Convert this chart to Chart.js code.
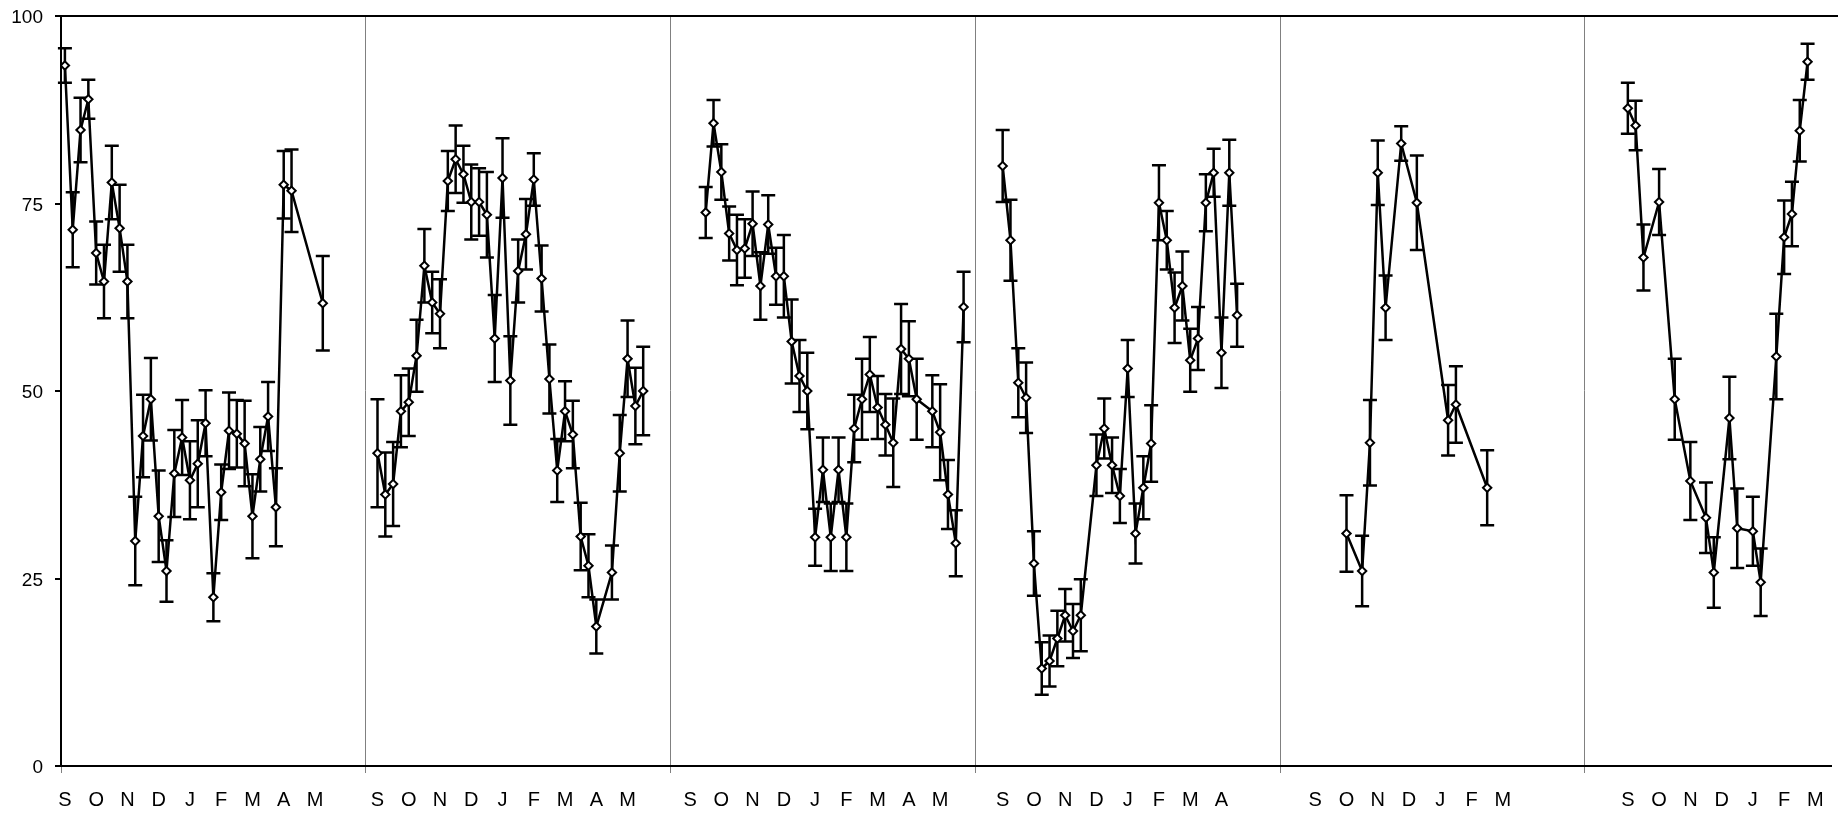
<!DOCTYPE html>
<html>
<head>
<meta charset="utf-8">
<script src="https://cdn.jsdelivr.net/npm/chart.js@4.4.0/dist/chart.umd.min.js"></script>
<style>
  html, body { margin: 0; padding: 0; background: #fff; }
</style>
</head>
<body>
<canvas id="grafica" width="1838" height="814"></canvas>
<script>
// Semana (índice global), media y error de cada temporada
const weeks1 = [0,1,2,3,4,5,6,7,8,9,10,11,12,13,14,15,16,17,18,19,20,21,22,23,24,25,26,27,28,29,33];
const mean1 = [93.4,71.5,84.8,88.9,68.4,64.6,77.8,71.7,64.6,30.0,44.0,48.9,33.3,26.0,39.0,43.8,38.1,40.3,45.7,22.5,36.5,44.7,44.3,43.0,33.3,40.9,46.6,34.5,77.5,76.7,61.7];
const err1 = [2.3,5.0,4.3,2.6,4.2,4.9,4.9,5.8,4.9,5.9,5.5,5.5,6.1,4.1,5.8,5.0,5.2,5.8,4.4,3.2,3.7,5.1,4.5,5.7,5.6,4.3,4.6,5.2,4.5,5.5,6.3];

const weeks2 = [40,41,42,43,44,45,46,47,48,49,50,51,52,53,54,55,56,57,58,59,60,61,62,63,64,65,66,67,68,70,71,72,73,74];
const mean2 = [41.7,36.2,37.6,47.3,48.5,54.7,66.7,61.8,60.3,78.0,80.9,78.9,75.2,75.2,73.5,57.0,78.4,51.4,66.0,70.9,78.2,65.0,51.6,39.4,47.3,44.2,30.6,26.7,18.6,25.8,41.7,54.3,48.0,50.0];
const err2 = [7.2,5.6,5.6,4.8,4.5,4.8,4.9,4.1,4.6,4.0,4.5,3.8,5.0,4.5,5.7,5.8,5.3,5.9,4.2,4.7,3.5,4.4,4.6,4.2,4.0,4.5,4.5,4.2,3.6,3.6,5.1,5.1,5.1,5.9];

const weeks3 = [82,83,84,85,86,87,88,89,90,91,92,93,94,95,96,97,98,99,100,101,102,103,104,105,106,107,108,109,111,112,113,114,115];
const mean3 = [73.8,85.7,79.2,71.0,68.8,69.0,72.3,64.0,72.2,65.3,65.3,56.6,52.0,50.0,30.5,39.5,30.5,39.5,30.5,45.0,48.9,52.2,47.8,45.5,43.1,55.6,54.3,48.9,47.3,44.5,36.2,29.7,61.2];
const err3 = [3.4,3.1,3.7,3.6,4.7,3.9,4.3,4.5,3.9,3.8,5.5,5.6,4.8,5.1,3.8,4.3,4.5,4.3,4.5,4.5,5.4,5.0,4.2,4.1,5.9,6.0,5.0,5.4,4.8,6.4,4.6,4.4,4.7];

const weeks4 = [120,121,122,123,124,125,126,127,128,129,130,132,133,134,135,136,137,138,139,140,141,142,143,144,145,146,147,148,149,150];
const mean4 = [80.0,70.1,51.1,49.1,27.0,13.0,14.0,17.0,20.1,18.0,20.1,40.1,45.0,40.1,36.0,53.0,31.0,37.1,43.0,75.1,70.1,61.1,64.0,54.1,57.0,75.1,79.1,55.1,79.1,60.1];
const err4 = [4.8,5.4,4.6,4.7,4.3,3.5,3.4,3.7,3.5,3.6,4.8,4.1,4.0,3.7,3.6,3.8,4.0,4.2,5.1,5.0,3.9,4.7,4.6,4.2,4.2,3.8,3.2,4.7,4.4,4.2];

const weeks5 = [164,166,167,168,169,171,173,177,178,182];
const mean5 = [31.0,26.0,43.1,79.1,61.1,83.0,75.1,46.1,48.2,37.1];
const err5 = [5.1,4.7,5.7,4.3,4.3,2.3,6.3,4.7,5.1,5.0];

const weeks6 = [200,201,202,204,206,208,210,211,213,214,216,217,219,220,221,222,223];
const mean6 = [87.7,85.4,67.8,75.2,48.9,38.0,33.1,25.8,46.4,31.7,31.3,24.5,54.6,70.5,73.6,84.7,93.9];
const err6 = [3.4,3.3,4.4,4.4,5.4,5.2,4.7,4.7,5.5,5.3,4.6,4.5,5.7,4.9,4.3,4.1,2.4];

// Etiquetas del eje
const monthLetters = ["S", "O", "N", "D", "J", "F", "M", "A", "M"];
const monthsShown = [9, 9, 9, 8, 7, 7];
const yTickValues = [0, 25, 50, 75, 100];

const FONT = "'Liberation Sans', Arial, Helvetica, sans-serif";
const PANEL_WEEKS = 39;
const X_MAX = 226.6;

const panels = [
    [weeks1, mean1, err1],
    [weeks2, mean2, err2],
    [weeks3, mean3, err3],
    [weeks4, mean4, err4],
    [weeks5, mean5, err5],
    [weeks6, mean6, err6]
];

// Marcas del eje x: separadores de temporada y letras de los meses
const xTickList = [];
for (let k = 0; k < panels.length; k++) {
    xTickList.push({ v: k * PANEL_WEEKS, label: "", sep: true });
    for (let m = 0; m < monthsShown[k]; m++) {
        xTickList.push({ v: 40 * k + 4 * m + 0.5, label: monthLetters[m], sep: false });
    }
}
xTickList.sort((a, b) => a.v - b.v);

const datasets = panels.map(([w, mean, err]) => ({
    data: w.map((wk, i) => ({ x: wk + 0.5, y: mean[i] })),
    err: err,
    borderColor: "#000",
    borderWidth: 2.5,
    pointStyle: "rectRot",
    pointRadius: 4.2,
    pointBackgroundColor: "#fff",
    pointBorderColor: "#000",
    pointBorderWidth: 2,
    tension: 0,
    fill: false
}));

// Barras de error
const errorBars = {
    id: "errorBars",
    beforeDatasetsDraw(chart) {
        const ctx = chart.ctx;
        const xs = chart.scales.x, ys = chart.scales.y;
        ctx.save();
        ctx.strokeStyle = "#000";
        ctx.lineWidth = 2.5;
        chart.data.datasets.forEach(ds => {
            ds.data.forEach((p, i) => {
                const e = ds.err[i];
                const px = xs.getPixelForValue(p.x);
                const top = ys.getPixelForValue(p.y + e);
                const bot = ys.getPixelForValue(p.y - e);
                ctx.beginPath();
                ctx.moveTo(px, top);
                ctx.lineTo(px, bot);
                ctx.moveTo(px - 7, top);
                ctx.lineTo(px + 7, top);
                ctx.moveTo(px - 7, bot);
                ctx.lineTo(px + 7, bot);
                ctx.stroke();
            });
        });
        ctx.restore();
    }
};

// Línea superior del marco
const topBorder = {
    id: "topBorder",
    afterDraw(chart) {
        const { ctx, chartArea } = chart;
        ctx.save();
        ctx.strokeStyle = "#000";
        ctx.lineWidth = 2;
        ctx.beginPath();
        ctx.moveTo(chartArea.left - 1, chartArea.top);
        ctx.lineTo(chart.width, chartArea.top);
        ctx.stroke();
        ctx.restore();
    }
};

new Chart(document.getElementById("grafica"), {
    type: "line",
    data: { datasets: datasets },
    options: {
        responsive: false,
        animation: false,
        devicePixelRatio: 1,
        layout: { padding: { top: 16, right: 0, left: 0, bottom: 0 } },
        plugins: {
            legend: { display: false },
            tooltip: { enabled: false }
        },
        scales: {
            x: {
                type: "linear",
                min: 0,
                max: X_MAX,
                afterBuildTicks: axis => {
                    axis.ticks = xTickList.map(t => ({ value: t.v }));
                },
                afterFit: axis => {
                    axis.height = 48;
                    axis.paddingLeft = 0;
                    axis.paddingRight = 0;
                },
                ticks: {
                    autoSkip: false,
                    maxRotation: 0,
                    padding: 15,
                    color: "#000",
                    font: { family: FONT, size: 20 },
                    callback: (v, i) => xTickList[i] ? xTickList[i].label : ""
                },
                grid: {
                    drawOnChartArea: true,
                    lineWidth: 1,
                    tickLength: 7,
                    color: c => (xTickList[c.index] && xTickList[c.index].sep) ? "#808080" : "rgba(0,0,0,0)",
                    tickColor: c => (xTickList[c.index] && xTickList[c.index].sep) ? "#808080" : "rgba(0,0,0,0)"
                },
                border: { color: "#000", width: 2 }
            },
            y: {
                min: 0,
                max: 100,
                afterBuildTicks: axis => {
                    axis.ticks = yTickValues.map(v => ({ value: v }));
                },
                afterFit: axis => {
                    axis.width = 61;
                    axis.paddingTop = 0;
                    axis.paddingBottom = 0;
                },
                ticks: {
                    padding: 12,
                    labelOffset: 2,
                    color: "#000",
                    font: { family: FONT, size: 19 }
                },
                grid: {
                    drawOnChartArea: false,
                    color: "#000",
                    lineWidth: 2,
                    tickLength: 6
                },
                border: { color: "#000", width: 2 }
            }
        }
    },
    plugins: [errorBars, topBorder]
});
</script>
</body>
</html>
